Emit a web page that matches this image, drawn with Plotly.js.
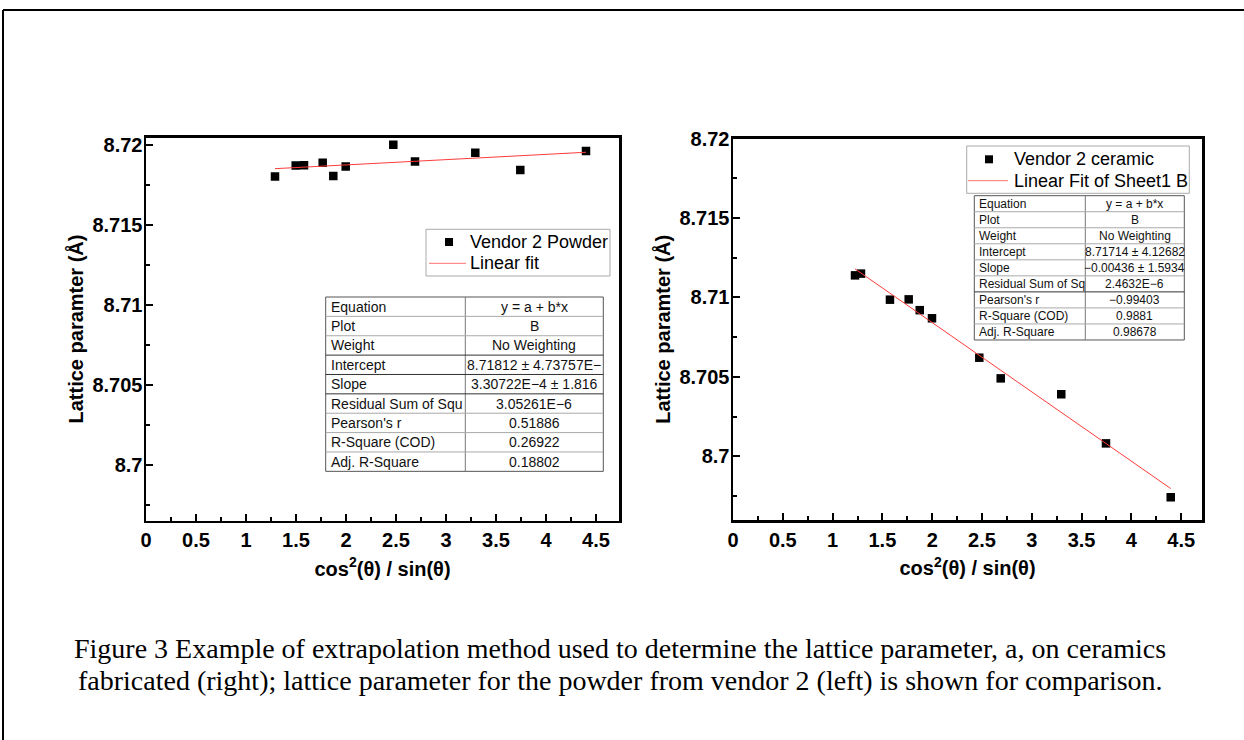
<!DOCTYPE html>
<html>
<head>
<meta charset="utf-8">
<script src="https://cdn.plot.ly/plotly-3.0.1.min.js"></script>
<style>
html,body{margin:0;padding:0;background:#fff;}
#chart{width:1244px;height:740px;}
</style>
</head>
<body>
<div id="chart"></div>
<script>
// ---------- data ----------
const powderX = [1.29, 1.497, 1.58, 1.767, 1.873, 1.997, 2.473, 2.69, 3.293, 3.743, 4.40];
const powderY = [8.71805, 8.71874, 8.71876, 8.71891, 8.71808, 8.71868, 8.72005, 8.71899, 8.71955, 8.71847, 8.71966];
const ceramicX = [1.225, 1.285, 1.576, 1.764, 1.875, 1.998, 2.473, 2.688, 3.296, 3.745, 4.395];
const ceramicY = [8.71139, 8.7115, 8.70986, 8.70988, 8.7092, 8.70869, 8.70621, 8.70491, 8.70391, 8.70082, 8.69743];

const powderFit = {intercept: 8.71812, slope: 3.30722e-4};
const ceramicFit = {intercept: 8.71714, slope: -0.00436};

const xTickVals = [0, 0.5, 1, 1.5, 2, 2.5, 3, 3.5, 4, 4.5];
const xTickText = ["0", "0.5", "1", "1.5", "2", "2.5", "3", "3.5", "4", "4.5"];
const xMinorVals = [0.25, 0.75, 1.25, 1.75, 2.25, 2.75, 3.25, 3.75, 4.25, 4.75];
const yTickVals = [8.7, 8.705, 8.71, 8.715, 8.72];
const yTickText = ["8.7", "8.705", "8.71", "8.715", "8.72"];
const yMinorVals = [8.6975, 8.7025, 8.7075, 8.7125, 8.7175];

const tableLabelsL = ["Equation", "Plot", "Weight", "Intercept", "Slope", "Residual Sum of Squ", "Pearson's r", "R-Square (COD)", "Adj. R-Square"];
const tableValuesL = ["y = a + b*x", "B", "No Weighting", "8.71812 ± 4.73757E−", "3.30722E−4 ± 1.816", "3.05261E−6", "0.51886", "0.26922", "0.18802"];
const tableLabelsR = ["Equation", "Plot", "Weight", "Intercept", "Slope", "Residual Sum of Sq", "Pearson's r", "R-Square (COD)", "Adj. R-Square"];
const tableValuesR = ["y = a + b*x", "B", "No Weighting", "8.71714 ± 4.12682", "−0.00436 ± 1.5934", "2.4632E−6", "−0.99403", "0.9881", "0.98678"];

const legendNames = ["Vendor 2 Powder", "Linear fit", "Vendor 2 ceramic", "Linear Fit of Sheet1 B"];
const axisTitleX = "cos<sup>2</sup>(θ) / sin(θ)";
const axisTitleY = "Lattice paramter (Å)";
const captionLines = [
  "Figure 3 Example of extrapolation method used to determine the lattice parameter, a, on ceramics",
  "fabricated (right); lattice parameter for the powder from vendor 2 (left) is shown for comparison."
];

// ---------- helpers ----------
const W = 1244, H = 740;
const fx = p => p / W;
const fy = p => 1 - p / H;
const SANS = "Liberation Sans, Arial, sans-serif";
const SERIF = "Liberation Serif, Times New Roman, serif";
const FITCOLOR = '#ff3b3b';

function fitLine(xs, fit) {
  const x0 = Math.min(...xs), x1 = Math.max(...xs);
  return {x: [x0, x1], y: [fit.intercept + fit.slope * x0, fit.intercept + fit.slope * x1]};
}
const fitL = fitLine(powderX, powderFit);
const fitR = fitLine(ceramicX, ceramicFit);

const traces = [
  {x: powderX, y: powderY, mode: 'markers', type: 'scatter', name: legendNames[0],
   xaxis: 'x', yaxis: 'y', marker: {symbol: 'square', size: 8.5, color: 'black', line: {width: 0}}},
  {x: fitL.x, y: fitL.y, mode: 'lines', type: 'scatter', name: legendNames[1],
   xaxis: 'x', yaxis: 'y', line: {color: FITCOLOR, width: 1}},
  {x: ceramicX, y: ceramicY, mode: 'markers', type: 'scatter', name: legendNames[2],
   xaxis: 'x2', yaxis: 'y2', marker: {symbol: 'square', size: 8.5, color: 'black', line: {width: 0}}},
  {x: fitR.x, y: fitR.y, mode: 'lines', type: 'scatter', name: legendNames[3],
   xaxis: 'x2', yaxis: 'y2', line: {color: FITCOLOR, width: 1}}
];

const tickFont = {family: SANS, size: 20, color: 'black', weight: 'bold'};
const titleFont = {family: SANS, size: 20, color: 'black', weight: 'bold'};

function xAxis(domain, range, anchor) {
  return {
    domain: domain, range: range, anchor: anchor,
    tickmode: 'array', tickvals: xTickVals, ticktext: xTickText,
    ticks: 'inside', ticklen: 7, tickwidth: 2, tickcolor: 'black',
    minor: {tickmode: 'array', tickvals: xMinorVals, ticks: 'inside', ticklen: 4, tickwidth: 2, tickcolor: 'black'},
    showline: true, linewidth: 2.5, linecolor: 'black', mirror: true,
    showgrid: false, zeroline: false, tickfont: tickFont, ticklabelstandoff: 0,
    title: {text: axisTitleX, font: titleFont, standoff: 12}
  };
}
function yAxis(domain, range, anchor) {
  return {
    domain: domain, range: range, anchor: anchor,
    tickmode: 'array', tickvals: yTickVals, ticktext: yTickText,
    ticks: 'inside', ticklen: 7, tickwidth: 2, tickcolor: 'black',
    minor: {tickmode: 'array', tickvals: yMinorVals, ticks: 'inside', ticklen: 4, tickwidth: 2, tickcolor: 'black'},
    showline: true, linewidth: 2.5, linecolor: 'black', mirror: true,
    showgrid: false, zeroline: false, tickfont: tickFont, ticklabelstandoff: -3,
    title: {text: axisTitleY, font: titleFont, standoff: 4}
  };
}

const shapes = [];
const annotations = [];

// outer page border (top and left edges only)
shapes.push({type: 'line', xref: 'paper', yref: 'paper', x0: fx(3), x1: fx(1244), y0: fy(10), y1: fy(10),
  line: {color: 'black', width: 2}});
shapes.push({type: 'line', xref: 'paper', yref: 'paper', x0: fx(3), x1: fx(3), y0: fy(10), y1: fy(740),
  line: {color: 'black', width: 2}});

function buildTable(left, right, mid, top, rowH, labels, values, fontSize, darkRows) {
  const n = labels.length;
  const bottom = top + rowH * n;
  shapes.push({type: 'rect', xref: 'paper', yref: 'paper', x0: fx(left), x1: fx(right), y0: fy(top), y1: fy(bottom),
    line: {color: '#555', width: 1}, fillcolor: 'white'});
  shapes.push({type: 'line', xref: 'paper', yref: 'paper', x0: fx(mid), x1: fx(mid), y0: fy(top), y1: fy(bottom),
    line: {color: '#777', width: 1}});
  for (let i = 1; i < n; i++) {
    const yy = top + rowH * i;
    const dark = darkRows.indexOf(i) >= 0;
    shapes.push({type: 'line', xref: 'paper', yref: 'paper', x0: fx(left), x1: fx(right), y0: fy(yy), y1: fy(yy),
      line: {color: dark ? '#333' : '#aaa', width: 1}});
  }
  for (let i = 0; i < n; i++) {
    const yc = top + rowH * (i + 0.5);
    annotations.push({xref: 'paper', yref: 'paper', x: fx(left + 3), y: fy(yc), xanchor: 'left', yanchor: 'middle',
      text: labels[i], showarrow: false, font: {family: SANS, size: fontSize, color: '#111'}});
    annotations.push({xref: 'paper', yref: 'paper', x: fx((mid + right) / 2), y: fy(yc), xanchor: 'center', yanchor: 'middle',
      text: values[i], showarrow: false, font: {family: SANS, size: fontSize, color: '#111'}});
  }
}
buildTable(325.7, 603.3, 465.3, 297, 19.37, tableLabelsL, tableValuesL, 14, [3, 4, 5]);
buildTable(974.3, 1184.3, 1085.3, 195.7, 16.03, tableLabelsR, tableValuesR, 12, [6]);

// custom legends (Origin style)
function buildLegend(left, right, top, bottom, markerX, textX, row1, row2, lineX0, lineX1, name1, name2) {
  shapes.push({type: 'rect', xref: 'paper', yref: 'paper', x0: fx(left), x1: fx(right), y0: fy(top), y1: fy(bottom),
    line: {color: '#aaa', width: 1}, fillcolor: 'white'});
  shapes.push({type: 'rect', xref: 'paper', yref: 'paper', x0: fx(markerX - 4), x1: fx(markerX + 4),
    y0: fy(row1 - 4), y1: fy(row1 + 4), line: {width: 0}, fillcolor: 'black'});
  shapes.push({type: 'line', xref: 'paper', yref: 'paper', x0: fx(lineX0), x1: fx(lineX1), y0: fy(row2), y1: fy(row2),
    line: {color: '#ff7070', width: 1}});
  annotations.push({xref: 'paper', yref: 'paper', x: fx(textX), y: fy(row1), xanchor: 'left', yanchor: 'middle',
    text: name1, showarrow: false, font: {family: SANS, size: 18, color: 'black'}});
  annotations.push({xref: 'paper', yref: 'paper', x: fx(textX), y: fy(row2), xanchor: 'left', yanchor: 'middle',
    text: name2, showarrow: false, font: {family: SANS, size: 18, color: 'black'}});
}
buildLegend(426, 610, 229.3, 276, 449, 468, 242, 263.3, 429, 466, legendNames[0], legendNames[1]);
buildLegend(966.7, 1189.3, 146, 193.3, 989, 1012, 159.3, 180.7, 968, 1008, legendNames[2], legendNames[3]);

// caption
annotations.push({xref: 'paper', yref: 'paper', x: fx(620), y: fy(648), xanchor: 'center', yanchor: 'middle',
  text: captionLines[0], showarrow: false, font: {family: SERIF, size: 28, color: 'black'}});
annotations.push({xref: 'paper', yref: 'paper', x: fx(620), y: fy(680), xanchor: 'center', yanchor: 'middle',
  text: captionLines[1], showarrow: false, font: {family: SERIF, size: 28, color: 'black'}});

const layout = {
  width: W, height: H,
  margin: {l: 0, r: 0, t: 0, b: 0},
  paper_bgcolor: 'white', plot_bgcolor: 'white',
  showlegend: false,
  xaxis: xAxis([fx(146), fx(619)], [0, 4.73], 'y'),
  yaxis: yAxis([fy(520.5), fy(137.5)], [8.6965, 8.7205], 'x'),
  xaxis2: xAxis([fx(733), fx(1202)], [0, 4.709], 'y2'),
  yaxis2: yAxis([fy(520), fy(138.5)], [8.6960, 8.7200], 'x2'),
  shapes: shapes,
  annotations: annotations
};

Plotly.newPlot('chart', traces, layout, {staticPlot: true, displayModeBar: false});
</script>
</body>
</html>
